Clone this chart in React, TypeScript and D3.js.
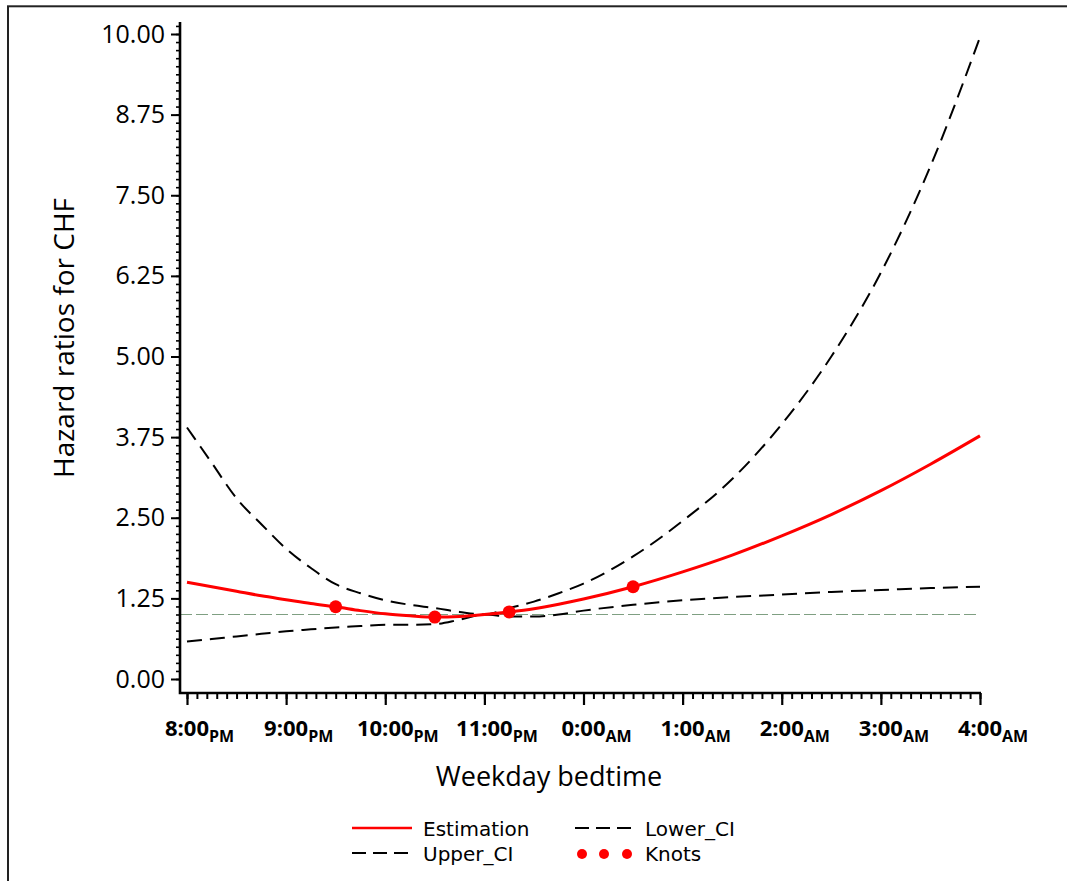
import React, { useRef, useEffect } from 'react';
import * as d3 from 'd3';

// bedtime in hours (20 = 8:00 PM, 24 = midnight, 28 = 4:00 AM)
const hours = [20, 20.25, 20.5, 20.75, 21, 21.25, 21.5, 21.75, 22, 22.25, 22.5, 22.75, 23, 23.25, 23.5, 23.75, 24, 24.5, 25, 25.5, 26, 26.5, 27, 27.5, 28];
const estimation = [1.50, 1.43, 1.36, 1.29, 1.23, 1.17, 1.12, 1.06, 1.01, 0.98, 0.96, 0.97, 1.00, 1.04, 1.09, 1.16, 1.24, 1.43, 1.66, 1.92, 2.22, 2.55, 2.92, 3.33, 3.77];
const upperCI = [3.90, 3.35, 2.80, 2.40, 2.02, 1.72, 1.47, 1.33, 1.22, 1.15, 1.10, 1.04, 1.00, 1.10, 1.20, 1.33, 1.48, 1.90, 2.45, 3.10, 3.95, 5.00, 6.30, 7.95, 9.95];
const lowerCI = [0.58, 0.62, 0.66, 0.70, 0.74, 0.77, 0.80, 0.82, 0.84, 0.84, 0.85, 0.92, 1.00, 0.97, 0.97, 1.00, 1.06, 1.15, 1.22, 1.27, 1.31, 1.35, 1.38, 1.41, 1.43];

const knotHours = [21.5, 22.5, 23.25, 24.5];
const knotValues = [1.12, 0.96, 1.04, 1.43];

const yTickValues = [0, 1.25, 2.5, 3.75, 5, 6.25, 7.5, 8.75, 10];
const xTickHours = [20, 21, 22, 23, 24, 25, 26, 27, 28];
const xTickLabels = ['8:00', '9:00', '10:00', '11:00', '0:00', '1:00', '2:00', '3:00', '4:00'];
const xTickSuffix = ['PM', 'PM', 'PM', 'PM', 'AM', 'AM', 'AM', 'AM', 'AM'];

const tickFont = '"Open Sans", sans-serif';
const legendFont = '"DejaVu Sans", sans-serif';

function HazardChart() {
    const ref = useRef<SVGSVGElement>(null);

    useEffect(() => {
        if (!ref.current) return;
        const svg = d3.select(ref.current);
        svg.selectAll('*').remove();

        const x = d3.scaleLinear().domain([20, 28]).range([187, 980]);
        const y = d3.scaleLinear().domain([0, 10]).range([679, 34]);
        const axisX = 180, axisY = 693;

        // outer frame (runs off the right and bottom edge)
        svg.append('rect')
            .attr('x', 8).attr('y', 6.3)
            .attr('width', 1100).attr('height', 900)
            .attr('fill', 'none').attr('stroke', '#222').attr('stroke-width', 2);

        // reference line at HR = 1
        svg.append('line')
            .attr('x1', axisX).attr('x2', x(28))
            .attr('y1', y(1)).attr('y2', y(1))
            .attr('stroke', '#7f9f82').attr('stroke-width', 1)
            .attr('stroke-dasharray', '12,4');

        // y axis
        const yMinor = d3.range(0, 10.15, 0.125);
        svg.append('g')
            .attr('transform', `translate(${axisX},0)`)
            .call(d3.axisLeft(y).tickValues(yMinor).tickSize(4).tickFormat(() => ''))
            .call(g => g.select('.domain').remove())
            .call(g => g.selectAll('line').attr('stroke', '#000').attr('stroke-width', 1.6));

        const yAxis = svg.append('g')
            .attr('transform', `translate(${axisX},0)`)
            .call(d3.axisLeft(y).tickValues(yTickValues).tickSize(9).tickPadding(6).tickFormat(d3.format('.2f')));
        yAxis.select('.domain').remove();
        yAxis.selectAll('line').attr('stroke', '#000').attr('stroke-width', 2);
        yAxis.selectAll('text')
            .attr('font-family', tickFont).attr('font-size', 25).attr('fill', '#000');

        // x axis
        const xMinor = d3.range(20, 28.001, 0.1);
        svg.append('g')
            .attr('transform', `translate(0,${axisY})`)
            .call(d3.axisBottom(x).tickValues(xMinor).tickSize(6).tickFormat(() => ''))
            .call(g => g.select('.domain').remove())
            .call(g => g.selectAll('line').attr('stroke', '#000').attr('stroke-width', 2));

        svg.append('g')
            .attr('transform', `translate(0,${axisY})`)
            .call(d3.axisBottom(x).tickValues(xTickHours).tickSize(12).tickFormat(() => ''))
            .call(g => g.select('.domain').remove())
            .call(g => g.selectAll('line').attr('stroke', '#000').attr('stroke-width', 2.2));

        // axis lines (L shape)
        svg.append('path')
            .attr('d', `M${axisX},22 V${axisY} H${x(28) + 1}`)
            .attr('fill', 'none').attr('stroke', '#000').attr('stroke-width', 2.6);

        // x tick labels with subscript AM/PM
        xTickHours.forEach((h, i) => {
            const t = svg.append('text')
                .attr('x', x(h)).attr('y', 736)
                .attr('text-anchor', 'middle')
                .attr('font-family', tickFont).attr('font-weight', 'bold').attr('font-size', 22)
                .text(xTickLabels[i]);
            const w = (t.node() as SVGTextElement).getComputedTextLength();
            svg.append('text')
                .attr('x', x(h) + w / 2).attr('y', 742)
                .attr('font-family', tickFont).attr('font-weight', 'bold').attr('font-size', 16)
                .text(xTickSuffix[i]);
        });

        // axis titles
        svg.append('text')
            .attr('x', 549).attr('y', 786)
            .attr('text-anchor', 'middle')
            .attr('font-family', tickFont).attr('font-size', 27)
            .text('Weekday bedtime');

        svg.append('text')
            .attr('transform', 'translate(74,338) rotate(-90)')
            .attr('text-anchor', 'middle')
            .attr('font-family', tickFont).attr('font-size', 28)
            .text('Hazard ratios for CHF');

        // curves
        const line = d3.line<number>()
            .x((_, i) => x(hours[i]))
            .y(d => y(d))
            .curve(d3.curveMonotoneX);

        svg.append('path').datum(upperCI)
            .attr('d', line).attr('fill', 'none')
            .attr('stroke', '#000').attr('stroke-width', 2).attr('stroke-dasharray', '15,8');

        svg.append('path').datum(lowerCI)
            .attr('d', line).attr('fill', 'none')
            .attr('stroke', '#000').attr('stroke-width', 2).attr('stroke-dasharray', '15,8');

        svg.append('path').datum(estimation)
            .attr('d', line).attr('fill', 'none')
            .attr('stroke', '#f00').attr('stroke-width', 3);

        svg.selectAll('.knot')
            .data(knotHours)
            .enter().append('circle')
            .attr('class', 'knot')
            .attr('cx', d => x(d))
            .attr('cy', (_, i) => y(knotValues[i]))
            .attr('r', 6.5)
            .attr('fill', '#f00');

        // legend
        const legend = svg.append('g');
        const entries = [
            { label: 'Estimation', lx: 352, ly: 828, kind: 'solid' },
            { label: 'Lower_CI', lx: 575, ly: 828, kind: 'dash' },
            { label: 'Upper_CI', lx: 352, ly: 853, kind: 'dash' },
            { label: 'Knots', lx: 575, ly: 853, kind: 'dots' },
        ];
        entries.forEach(e => {
            if (e.kind === 'solid') {
                legend.append('line')
                    .attr('x1', e.lx).attr('x2', e.lx + 60).attr('y1', e.ly).attr('y2', e.ly)
                    .attr('stroke', '#f00').attr('stroke-width', 2.5);
            } else if (e.kind === 'dash') {
                legend.append('line')
                    .attr('x1', e.lx).attr('x2', e.lx + 56).attr('y1', e.ly).attr('y2', e.ly)
                    .attr('stroke', '#000').attr('stroke-width', 2).attr('stroke-dasharray', '14,7');
            } else {
                [7, 29, 52].forEach(dx => {
                    legend.append('circle')
                        .attr('cx', e.lx + dx).attr('cy', e.ly + 1).attr('r', 5).attr('fill', '#f00');
                });
            }
            legend.append('text')
                .attr('x', e.lx + (e.kind === 'solid' || e.label === 'Upper_CI' ? 71 : 70))
                .attr('y', e.ly + 8)
                .attr('font-family', legendFont).attr('font-size', 20)
                .text(e.label);
        });
    }, []);

    return (
        <svg ref={ref} width={1067} height={881}
             style={{ position: 'absolute', left: 0, top: 0, background: '#fff' }} />
    );
}

export default function App() {
    return <HazardChart />;
}
